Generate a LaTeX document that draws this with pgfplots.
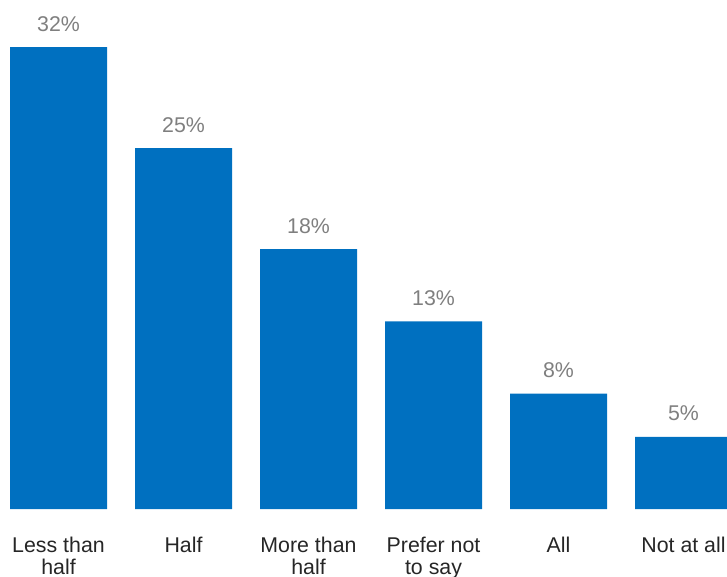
\documentclass[border=0pt]{standalone}
\usepackage{pgfplots}
\pgfplotsset{compat=1.18}
\usepackage{fontspec}
\setmainfont{Liberation Sans}
\definecolor{barblue}{HTML}{0070C0}
\definecolor{valgray}{HTML}{7F7F7F}
\definecolor{cattext}{HTML}{262626}
\begin{document}
\begin{tikzpicture}
\begin{axis}[
  at={(0,0)}, anchor=south west,
  scale only axis,
  width=545.25pt, height=381.75pt,
  xmin=-0.468, xmax=5.348,
  ymin=0, ymax=35.26,
  ybar, bar width=72.75pt,
  axis line style={draw=none},
  major tick length=0pt,
  ytick=\empty,
  xtick=data,
  /pgf/number format/assume math mode=true,
  xticklabels={{Less than\\half},Half,{More than\\half},{Prefer not\\to say},All,Not at all},
  xticklabel style={align=center, inner sep=0pt, anchor=north, yshift=-21pt,
    font=\fontsize{16}{16.5}\selectfont, text=cattext},
  nodes near coords={\pgfmathprintnumber{\pgfplotspointmeta}\%},
  nodes near coords style={anchor=base, inner sep=0pt, yshift=12pt,
    font=\fontsize{16}{16.5}\selectfont, text=valgray},
  clip=false,
]
\addplot[fill=barblue, draw=none] coordinates {(0,32) (1,25) (2,18) (3,13) (4,8) (5,5)};
\end{axis}
\pgfresetboundingbox
\useasboundingbox (0,-50.25pt) rectangle (545.25pt,381.75pt);
\end{tikzpicture}
\end{document}
